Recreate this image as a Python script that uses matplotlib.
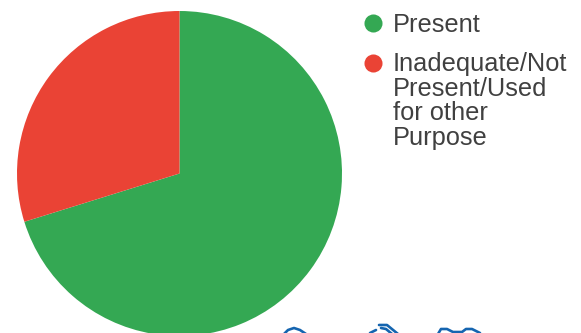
import matplotlib
matplotlib.use('Agg')
import matplotlib.pyplot as plt

labels = ['Present', 'Inadequate/Not\nPresent/Used\nfor other\nPurpose']
values = [70.2, 29.8]
colors = ['#34a853', '#ea4335']

W, H = 581, 333
fig = plt.figure(figsize=(W / 100, H / 100), dpi=100)
plt.rcParams['font.family'] = ['Liberation Sans', 'DejaVu Sans']

# pie axes hang slightly over the bottom edge, so the circle gets cut off
ax = fig.add_axes([17 / W, -3 / H, 325 / W, 325 / H])
ax.pie(values, colors=colors, startangle=90, counterclock=False, radius=1,
       wedgeprops={'linewidth': 0})
ax.set_xlim(-1, 1)
ax.set_ylim(-1, 1)
ax.set_aspect('equal')

# overlay in pixel units for the legend
over = fig.add_axes([0, 0, 1, 1])
over.set_xlim(0, W)
over.set_ylim(H, 0)
over.axis('off')

marker_y = [23, 63]
text_top = [13, 52]
for label, color, my, ty in zip(labels, colors, marker_y, text_top):
    over.plot([373], [my], 'o', color=color, markersize=13, markeredgewidth=0)
    over.text(393, ty, label, fontsize=18.3, color='#404040',
              va='top', ha='left', linespacing=1.03)

# tops of the blue icons that run off the bottom edge
blue = '#1565b0'
icon_parts = [
    ([284, 288, 294, 300, 306], [334, 330, 328, 330, 334]),
    ([370, 376], [333, 330]),
    ([379, 387, 398], [325, 325, 334]),
    ([381, 386, 392], [328, 329, 334]),
    ([438, 441, 447, 453, 462, 466, 472, 480], [334, 329, 329, 332, 332, 329, 329, 333]),
]
for xs, ys in icon_parts:
    over.plot(xs, ys, color=blue, linewidth=1.9, solid_capstyle='round')

fig.savefig('out.png', dpi=100)
